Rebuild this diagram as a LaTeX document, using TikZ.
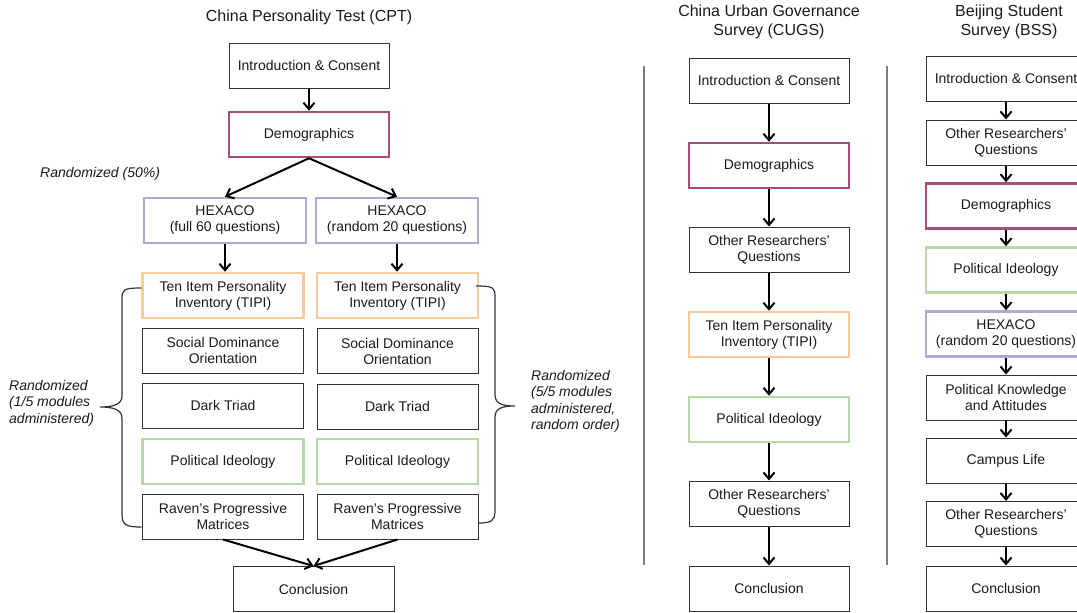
\documentclass[tikz,border=0pt]{standalone}
\usepackage{fontspec}
\setmainfont{Liberation Sans}
\usetikzlibrary{arrows.meta}
\definecolor{txt}{HTML}{1A1A1A}
\definecolor{bordgray}{HTML}{333333}
\definecolor{magbord}{HTML}{A64D79}
\definecolor{purbord}{HTML}{B4A7D6}
\definecolor{orabord}{HTML}{F9CB9C}
\definecolor{grebord}{HTML}{B6D7A8}
\definecolor{sepgray}{HTML}{7F7F7F}
\tikzset{
  boxbase/.style={rectangle, minimum height=45pt, inner sep=0pt, align=center, text=txt,
    font=\fontsize{14}{16}\selectfont},
  plainbox/.style={boxbase, draw=bordgray, line width=1pt, minimum width=#1},
  plainbox/.default=161pt,
  magbox/.style={boxbase, draw=magbord, line width=2.5pt, minimum width=#1},
  magbox/.default=161pt,
  purbox/.style={boxbase, draw=purbord, line width=2.5pt, minimum width=#1},
  purbox/.default=161pt,
  orabox/.style={boxbase, draw=orabord, line width=2.5pt, minimum width=#1},
  orabox/.default=161pt,
  grebox/.style={boxbase, draw=grebord, line width=2.5pt, minimum width=#1},
  grebox/.default=161pt,
  flowarrow/.style={draw=black, line width=2pt, -{Straight Barb[length=6.5pt,width=11pt]}},
  bracepath/.style={draw=bordgray, line width=1.2pt},
  seprule/.style={draw=sepgray, line width=1.5pt},
  titletext/.style={align=center, text=txt, font=\fontsize{16}{19}\selectfont},
  notetext/.style={align=left, text=txt, font=\fontsize{14}{16.5}\selectfont\itshape, inner sep=0pt, anchor=west},
}
\begin{document}
\begin{tikzpicture}[x=1pt,y=-1pt]
\useasboundingbox (0,0) rectangle (1077,613);

% ---------- CPT ----------
\node[titletext] (cpttitle) at (309,17) {China Personality Test (CPT)};
\node[plainbox=160pt] (cptintro) at (309,65.5) {Introduction \& Consent};
\node[magbox=160pt] (cptdemo) at (309,134.5) {Demographics};
\node[notetext] (rand50) at (40,174) {Randomized (50\%)};
\node[purbox=162pt] (hexL) at (225,220.5) {HEXACO\\(full 60 questions)};
\node[purbox=162pt] (hexR) at (397,220.5) {HEXACO\\(random 20 questions)};

\node[orabox] (tipiL) at (223,295.5) {Ten Item Personality\\Inventory (TIPI)};
\node[plainbox] (sdoL) at (223,350.5) {Social Dominance\\Orientation};
\node[plainbox] (dtL) at (223,405.5) {Dark Triad};
\node[grebox] (piL) at (223,461.5) {Political Ideology};
\node[plainbox] (ravL) at (223,516.5) {Raven’s Progressive\\Matrices};

\node[orabox] (tipiR) at (397.5,295.5) {Ten Item Personality\\Inventory (TIPI)};
\node[plainbox] (sdoR) at (397.5,351) {Social Dominance\\Orientation};
\node[plainbox] (dtR) at (397.5,406.5) {Dark Triad};
\node[grebox] (piR) at (397.5,461.5) {Political Ideology};
\node[plainbox] (ravR) at (397.5,516.5) {Raven’s Progressive\\Matrices};

\node[plainbox] (cptconc) at (313.5,589) {Conclusion};

\draw[flowarrow] (cptintro) -- (cptdemo);
\draw[flowarrow] (cptdemo.south) -- (hexL.north);
\draw[flowarrow] (cptdemo.south) -- (hexR.north);
\draw[flowarrow] (hexL) -- (hexL.south |- tipiL.north);
\draw[flowarrow] (hexR) -- (hexR.south |- tipiR.north);
\draw[flowarrow] (ravL.south) -- (cptconc.north);
\draw[flowarrow] (ravR.south) -- (cptconc.north);

% braces
\coordinate (lbT) at (141.5,288);
\coordinate (lbM) at (100,407);
\coordinate (lbB) at (141.5,527);
\draw[bracepath] (lbT) .. controls (122,288) and (122,290) .. (122,300) -- (122,396)
  .. controls (122,405) and (112,407) .. (lbM)
  .. controls (112,407) and (122,409) .. (122,418) -- (122,514)
  .. controls (122,525) and (126,527) .. (lbB);
\node[notetext] (noteL) at (9,403) {Randomized\\(1/5 modules\\administered)};

\coordinate (rbT) at (476,286);
\coordinate (rbM) at (515,406);
\coordinate (rbB) at (478.5,523);
\draw[bracepath] (rbT) .. controls (495,286) and (495,288) .. (495,298) -- (495,395)
  .. controls (495,404) and (503,406) .. (rbM)
  .. controls (503,406) and (495,408) .. (495,417) -- (495,511)
  .. controls (495,521) and (491,523) .. (rbB);
\node[notetext] (noteR) at (531,401.5) {Randomized\\(5/5 modules\\administered,\\random order)};

% separators
\coordinate (s1a) at (644,66); \coordinate (s1b) at (644,565);
\coordinate (s2a) at (887,66); \coordinate (s2b) at (887,565);
\draw[seprule] (s1a) -- (s1b);
\draw[seprule] (s2a) -- (s2b);

% ---------- CUGS ----------
\node[titletext] (cugstitle) at (769,22) {China Urban Governance\\Survey (CUGS)};
\node[plainbox=160pt] (c1) at (769,80.5) {Introduction \& Consent};
\node[magbox=160pt] (c2) at (769,165.5) {Demographics};
\node[plainbox=160pt] (c3) at (769,249.5) {Other Researchers’\\Questions};
\node[orabox=160pt] (c4) at (769,334.5) {Ten Item Personality\\Inventory (TIPI)};
\node[grebox=160pt] (c5) at (769,419.5) {Political Ideology};
\node[plainbox=160pt] (c6) at (769,503.5) {Other Researchers’\\Questions};
\node[plainbox=160pt] (c7) at (769,588.5) {Conclusion};
\foreach \a/\b in {c1/c2,c2/c3,c3/c4,c4/c5,c5/c6,c6/c7}
  \draw[flowarrow] (\a) -- (\b);

% ---------- BSS ----------
\node[titletext] (bsstitle) at (1009,22) {Beijing Student\\Survey (BSS)};
\node[plainbox=160pt] (b1) at (1006,78.5) {Introduction \& Consent};
\node[plainbox=160pt] (b2) at (1006,142.5) {Other Researchers’\\Questions};
\node[magbox=160pt] (b3) at (1006,206) {Demographics};
\node[grebox=160pt] (b4) at (1006,270) {Political Ideology};
\node[purbox=160pt] (b5) at (1006,334) {HEXACO\\(random 20 questions)};
\node[plainbox=160pt] (b6) at (1006,397.5) {Political Knowledge\\and Attitudes};
\node[plainbox=160pt] (b7) at (1006,460.5) {Campus Life};
\node[plainbox=160pt] (b8) at (1006,524) {Other Researchers’\\Questions};
\node[plainbox=160pt] (b9) at (1006,588.5) {Conclusion};
\foreach \a/\b in {b1/b2,b2/b3,b3/b4,b4/b5,b5/b6,b6/b7,b7/b8,b8/b9}
  \draw[flowarrow] (\a) -- (\b);
\end{tikzpicture}
\end{document}
